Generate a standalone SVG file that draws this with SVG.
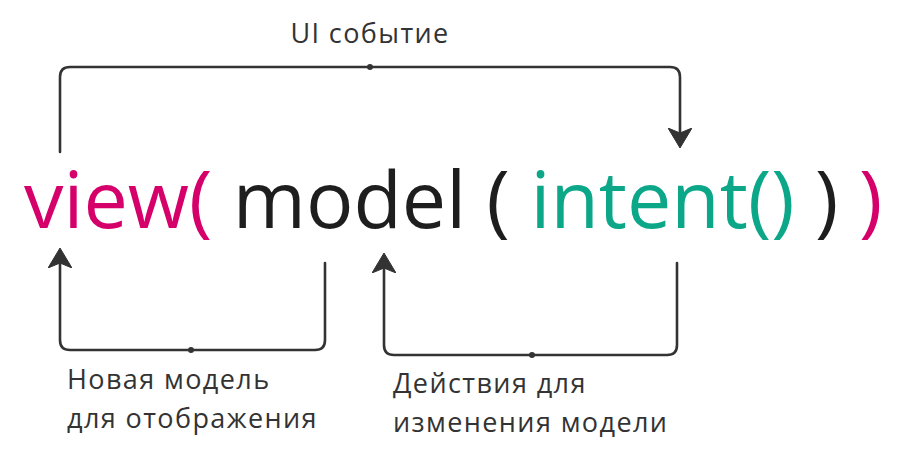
<svg xmlns="http://www.w3.org/2000/svg" width="901" height="469" viewBox="0 0 901 469">
  <defs>
    <style>
      .main { font-family: "Open Sans", "Noto Sans", sans-serif; font-size: 79px; }
      .pink { fill: #d5006a; }
      .dark { fill: #1e1e1e; }
      .green { fill: #0ca789; }
      .label { font-family: "Open Sans", "Noto Sans", sans-serif; font-size: 27px; letter-spacing: 1.4px; fill: #333333; }
      .conn { fill: none; stroke: #333333; stroke-width: 2.6; stroke-linecap: round; stroke-linejoin: round; }
      .dot { fill: #333333; }
    </style>
    <marker id="arrow" viewBox="0 0 20 24" refX="5" refY="12" markerWidth="20" markerHeight="24" markerUnits="userSpaceOnUse" orient="auto">
      <path d="M0,0 L20,12 L0,24 L5,12 Z" fill="#333333" stroke="#333333" stroke-width="1" stroke-linejoin="round"/>
    </marker>
  </defs>
  <rect width="901" height="469" fill="#ffffff"/>

  <g id="expression">
    <text class="main" x="24" y="228" xml:space="preserve"><tspan class="pink">view(</tspan><tspan class="dark"> model ( </tspan><tspan class="green">intent()</tspan><tspan class="dark"> ) </tspan><tspan class="pink">)</tspan></text>
  </g>

  <g id="connectors">
    <path class="conn" d="M60,152 V77 Q60,67 70,67 H670 Q680,67 680,77 V133" marker-end="url(#arrow)"/>
    <path class="conn" d="M325,263 V340 Q325,350 315,350 H70 Q60,350 60,340 V263" marker-end="url(#arrow)"/>
    <path class="conn" d="M677,263 V345 Q677,355 667,355 H394 Q384,355 384,345 V268" marker-end="url(#arrow)"/>
    <circle class="dot" cx="370" cy="67" r="3"/>
    <circle class="dot" cx="191" cy="350" r="3"/>
    <circle class="dot" cx="532" cy="355" r="3"/>
  </g>

  <g id="label-ui-event">
    <text class="label" x="370" y="43" text-anchor="middle">UI событие</text>
  </g>
  <g id="label-new-model">
    <text class="label" x="67" y="389">Новая модель</text>
    <text class="label" x="67" y="428">для отображения</text>
  </g>
  <g id="label-actions">
    <text class="label" x="393" y="393">Действия для</text>
    <text class="label" x="393" y="432">изменения модели</text>
  </g>
</svg>
